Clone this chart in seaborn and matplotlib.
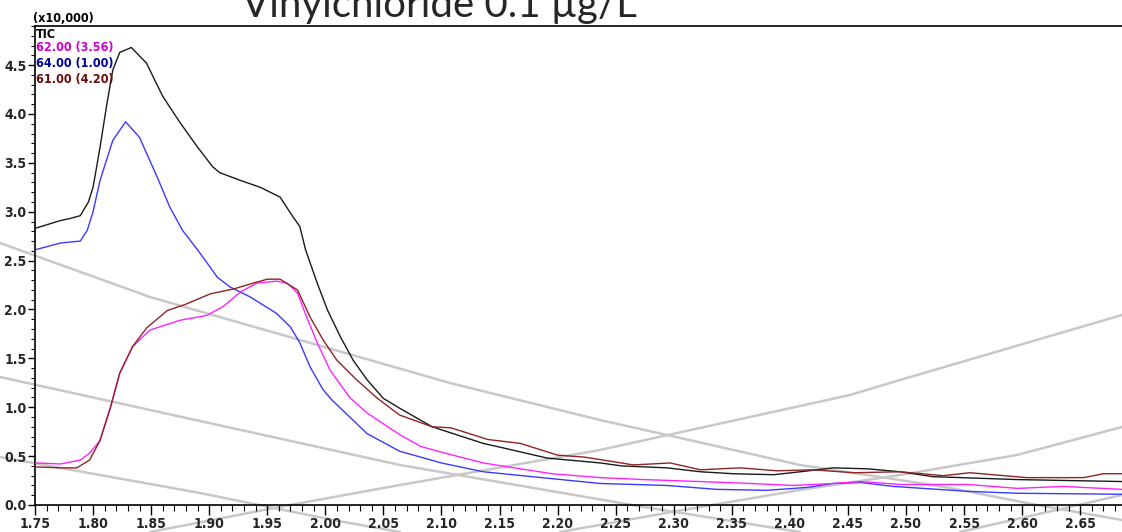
import matplotlib
matplotlib.use("Agg")
import matplotlib.pyplot as plt
from matplotlib.lines import Line2D
from matplotlib.ticker import MultipleLocator, FixedLocator, FixedFormatter
from matplotlib.font_manager import FontProperties
import seaborn as sns
import pandas as pd

# ---------------- data (retention time in min, intensity x10,000) ----------------
tic_x = [1.750, 1.772, 1.780, 1.789, 1.796, 1.800, 1.806, 1.812, 1.817, 1.823, 1.833,
         1.846, 1.860, 1.875, 1.890, 1.903, 1.909, 1.927, 1.944, 1.961, 1.972, 1.978,
         1.983, 1.993, 2.002, 2.013, 2.024, 2.036, 2.050, 2.064, 2.092, 2.136, 2.151,
         2.191, 2.237, 2.255, 2.294, 2.323, 2.351, 2.386, 2.409, 2.437, 2.467, 2.495,
         2.523, 2.596, 2.686]
tic_y = [2.83, 2.91, 2.93, 2.96, 3.10, 3.25, 3.66, 4.11, 4.45, 4.63, 4.68,
         4.52, 4.18, 3.91, 3.66, 3.46, 3.40, 3.32, 3.25, 3.15, 2.95, 2.85,
         2.61, 2.27, 1.99, 1.72, 1.48, 1.28, 1.09, 0.99, 0.80, 0.63, 0.59,
         0.48, 0.43, 0.40, 0.38, 0.34, 0.32, 0.31, 0.34, 0.38, 0.37, 0.34,
         0.29, 0.26, 0.24]

m64_x = [1.750, 1.772, 1.789, 1.795, 1.800, 1.806, 1.817, 1.828, 1.840, 1.855, 1.866,
         1.877, 1.890, 1.901, 1.907, 1.918, 1.935, 1.958, 1.970, 1.978, 1.987, 1.998,
         2.006, 2.021, 2.036, 2.064, 2.100, 2.136, 2.203, 2.237, 2.294, 2.337, 2.380,
         2.415, 2.437, 2.461, 2.489, 2.553, 2.596, 2.686]
m64_y = [2.61, 2.68, 2.70, 2.81, 3.00, 3.32, 3.73, 3.92, 3.76, 3.36, 3.05,
         2.81, 2.61, 2.43, 2.33, 2.23, 2.13, 1.96, 1.82, 1.66, 1.41, 1.18,
         1.07, 0.90, 0.73, 0.55, 0.43, 0.34, 0.26, 0.22, 0.20, 0.16, 0.15,
         0.18, 0.22, 0.23, 0.19, 0.14, 0.12, 0.11]

m62_x = [1.750, 1.772, 1.789, 1.797, 1.806, 1.815, 1.823, 1.834, 1.849, 1.875, 1.898,
         1.912, 1.927, 1.941, 1.958, 1.967, 1.976, 1.984, 1.993, 2.004, 2.021, 2.036,
         2.064, 2.082, 2.100, 2.136, 2.195, 2.237, 2.274, 2.323, 2.366, 2.403, 2.437,
         2.461, 2.495, 2.553, 2.596, 2.635, 2.686]
m62_y = [0.43, 0.42, 0.46, 0.53, 0.66, 1.00, 1.35, 1.62, 1.79, 1.89, 1.94,
         2.03, 2.18, 2.27, 2.29, 2.27, 2.17, 1.92, 1.66, 1.38, 1.10, 0.94,
         0.72, 0.60, 0.54, 0.43, 0.32, 0.28, 0.26, 0.24, 0.22, 0.20, 0.22,
         0.24, 0.21, 0.21, 0.17, 0.19, 0.16]

m61_x = [1.750, 1.772, 1.786, 1.797, 1.806, 1.815, 1.823, 1.834, 1.846, 1.864, 1.879,
         1.901, 1.921, 1.938, 1.950, 1.961, 1.976, 1.987, 1.998, 2.010, 2.027, 2.045,
         2.064, 2.092, 2.108, 2.140, 2.168, 2.200, 2.223, 2.255, 2.265, 2.297, 2.323,
         2.357, 2.389, 2.420, 2.455, 2.495, 2.532, 2.555, 2.604, 2.653, 2.670, 2.686]
m61_y = [0.39, 0.38, 0.38, 0.46, 0.66, 1.00, 1.35, 1.62, 1.81, 1.99, 2.05,
         2.16, 2.21, 2.27, 2.31, 2.31, 2.20, 1.92, 1.69, 1.48, 1.28, 1.09,
         0.92, 0.80, 0.79, 0.67, 0.63, 0.51, 0.49, 0.43, 0.41, 0.43, 0.36,
         0.38, 0.35, 0.36, 0.33, 0.34, 0.30, 0.33, 0.28, 0.28, 0.32, 0.32]

series_labels = ["TIC", "62.00 (3.56)", "64.00 (1.00)", "61.00 (4.20)"]
x_ticks = [1.75, 1.80, 1.85, 1.90, 1.95, 2.00, 2.05, 2.10, 2.15, 2.20, 2.25,
           2.30, 2.35, 2.40, 2.45, 2.50, 2.55, 2.60, 2.65]
y_ticks = [0.0, 0.5, 1.0, 1.5, 2.0, 2.5, 3.0, 3.5, 4.0, 4.5]
title_text = "Vinylchloride 0.1 \u00b5g/L"
scale_text = "(x10,000)"

# ---------------- styling ----------------
sns.set_style("ticks")
plt.rcParams["font.family"] = ["DejaVu Sans"]

W, H = 1122, 532
fig = plt.figure(figsize=(W / 100, H / 100), dpi=100)
fig.patch.set_facecolor("white")

# decorative background arcs of the slide (pixel polylines)
deco = [
    [(0, 243), (150, 297), (300, 340), (450, 383), (600, 420), (667, 435),
     (800, 465), (900, 480), (950, 488), (1037, 505), (1122, 520)],
    [(0, 377), (150, 410), (400, 465), (644, 507), (800, 532)],
    [(0, 457), (200, 493), (333, 520), (400, 532)],
    [(150, 532), (290, 505), (400, 485), (600, 450), (668, 435), (850, 395),
     (900, 380), (1122, 315)],
    [(560, 532), (683, 510), (800, 490), (900, 475), (1017, 455), (1122, 427)],
    [(960, 532), (1122, 495)],
]
for pts in deco:
    xs = [p[0] / W for p in pts]
    ys = [1 - p[1] / H for p in pts]
    fig.add_artist(Line2D(xs, ys, transform=fig.transFigure, color="#c8c8c8",
                          lw=1.8, zorder=-5, solid_capstyle="round",
                          solid_joinstyle="round"))

ax = fig.add_axes([35 / W, 27 / H, 1087 / W, 479 / H])
ax.set_facecolor("none")

colors = ["#1a1a1a", "#ff22ff", "#3a3aff", "#8e2424"]
data = [(tic_x, tic_y), (m62_x, m62_y), (m64_x, m64_y), (m61_x, m61_y)]
order = [0, 2, 1, 3]
for i in order:
    xs, ys = data[i]
    df = pd.DataFrame({"t": xs, "v": ys})
    sns.lineplot(data=df, x="t", y="v", ax=ax, color=colors[i], lw=1.0,
                 sort=False, legend=False, zorder=3)
for ln in ax.lines:
    ln.set_solid_joinstyle("round")

ax.set_xlim(1.75, 2.686)
ax.set_ylim(0, 4.9)
ax.set_xlabel("")
ax.set_ylabel("")

ax.xaxis.set_major_locator(FixedLocator(x_ticks))
ax.xaxis.set_major_formatter(FixedFormatter([f"{v:.2f}" for v in x_ticks]))
ax.xaxis.set_minor_locator(MultipleLocator(0.01))
ax.yaxis.set_major_locator(FixedLocator(y_ticks))
ax.yaxis.set_major_formatter(FixedFormatter([f"{v:.1f}" for v in y_ticks]))
ax.yaxis.set_minor_locator(MultipleLocator(0.1))

tick_fp = FontProperties(family="DejaVu Sans", weight="bold", stretch="condensed", size=10)
for lab in ax.get_xticklabels() + ax.get_yticklabels():
    lab.set_fontproperties(tick_fp)

ax.tick_params(axis="x", which="major", direction="out", length=7, width=1, color="black", pad=2)
ax.tick_params(axis="x", which="minor", direction="out", length=4, width=0.8, color="black")
ax.tick_params(axis="y", which="major", direction="out", length=5, width=1, color="black", pad=1)
ax.tick_params(axis="y", which="minor", direction="out", length=3, width=0.8, color="black")

for s in ["left", "bottom", "top"]:
    ax.spines[s].set_color("black")
    ax.spines[s].set_linewidth(1.2)
ax.spines["right"].set_visible(False)

# legend-like labels at top-left
lab_fp = FontProperties(family="DejaVu Sans", weight="bold", stretch="condensed", size=9)
label_colors = ["black", "#d000d0", "#0000a0", "#6a0a0a"]
label_y = [34, 48, 63, 79]
for lab, c, yp in zip(series_labels, label_colors, label_y):
    fig.text(36 / W, 1 - yp / H, lab, color=c, fontproperties=lab_fp,
             va="center", ha="left")

fig.text(33 / W, 1 - 22 / H, scale_text, color="black", fontproperties=lab_fp,
         va="baseline", ha="left")

fig.text(242 / W, 1 - 17 / H, title_text, color="#262626", fontsize=29,
         family=["Lato", "DejaVu Sans"], va="baseline", ha="left")

fig.savefig("out.png", dpi=100, facecolor="white")
